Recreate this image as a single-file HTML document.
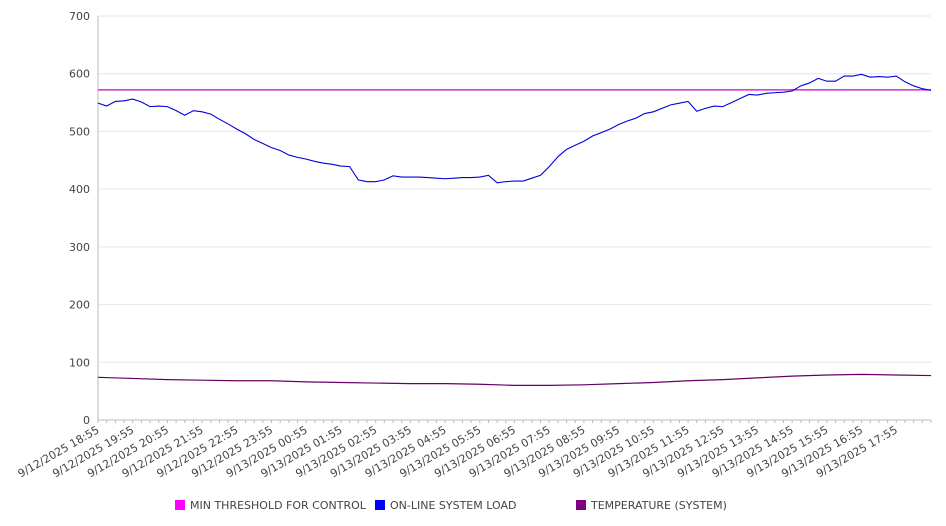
<!DOCTYPE html>
<html><head><meta charset="utf-8"><style>
html,body{margin:0;padding:0;background:#fff;}
svg{display:block;font-family:"DejaVu Sans","Liberation Sans",sans-serif;}
</style></head><body>
<svg id="chart" width="946" height="526"></svg>
<script>
const loadValues=[549,544,552,553,556,551,543,544,543,536,528,536,534,530,521,513,504,496,486,479,472,467,459,455,452,448,445,443,440,439,416,413,413,416,423,421,421,421,420,419,418,419,420,420,421,424,411,413,414,414,419,424,439,456,469,476,483,492,498,504,512,518,523,531,534,540,546,549,552,535,540,544,543,550,557,564,563,566,567,568,570,579,584,592,587,587,596,596,599,594,595,594,596,586,579,574,571];
const tempValues=[74,72,70,69,68,68,66,65,64,63,63,62,60,60,61,63,65,68,70,73,76,78,79,78,77];
const thresholdValue=572;
const yTicks=[0,100,200,300,400,500,600,700];
const xLabels=["9/12/2025 18:55","9/12/2025 19:55","9/12/2025 20:55","9/12/2025 21:55","9/12/2025 22:55","9/12/2025 23:55","9/13/2025 00:55","9/13/2025 01:55","9/13/2025 02:55","9/13/2025 03:55","9/13/2025 04:55","9/13/2025 05:55","9/13/2025 06:55","9/13/2025 07:55","9/13/2025 08:55","9/13/2025 09:55","9/13/2025 10:55","9/13/2025 11:55","9/13/2025 12:55","9/13/2025 13:55","9/13/2025 14:55","9/13/2025 15:55","9/13/2025 16:55","9/13/2025 17:55"];
const legendNames=["MIN THRESHOLD FOR CONTROL","ON-LINE SYSTEM LOAD","TEMPERATURE (SYSTEM)"];
const NS="http://www.w3.org/2000/svg";
const svg=document.getElementById('chart');
const L=98,R=931,T=16,B=420,HOURS=24;
const y=v=>B-(v/700)*(B-T);
const xh=h=>L+(h/HOURS)*(R-L);
function mk(tag,attrs,parent){const e=document.createElementNS(NS,tag);for(const k in attrs)e.setAttribute(k,attrs[k]);(parent||svg).appendChild(e);return e;}
const grid=mk('g',{});


yTicks.forEach(t=>{
  const l=mk('line',{x1:L,x2:R,y1:y(t),y2:y(t),stroke:t===0?'#bbb':'#e6e6e6','stroke-width':1},grid);
  
  
  const tx=mk('text',{x:90,y:y(t)+4,'text-anchor':'end','font-size':11,fill:'#444'});
  tx.textContent=t;
  
  
});
const ax=mk('line',{x1:L,x2:L,y1:T,y2:B,stroke:'#bbb'});


for(let i=0;i<loadValues.length;i++){
  const xx=xh(i/4);
  const tk=mk('line',{x1:xx,x2:xx,y1:B,y2:B+3,stroke:'#bbb'});
  
  
}
xLabels.forEach((s,i)=>{
  const xx=xh(i);
  const tx=mk('text',{x:0,y:0,'text-anchor':'end','font-size':11,fill:'#444',transform:`translate(${xx+2},${B+12}) rotate(-30)`});
  tx.textContent=s;
  
  
});
const th=mk('line',{x1:L,x2:R,y1:y(thresholdValue),y2:y(thresholdValue),stroke:'#cc00cc','stroke-width':1.2});


const lp=mk('polyline',{points:loadValues.map((v,i)=>xh(i/4)+','+y(v)).join(' '),fill:'none',stroke:'#0000dd','stroke-width':1.1});


const tp=mk('polyline',{points:tempValues.map((v,i)=>xh(i*HOURS/(tempValues.length-1))+','+y(v)).join(' '),fill:'none',stroke:'#660066','stroke-width':1.2});


const colors=['#ff00ff','#0000ff','#800080'];
const lx=[175,375,576];
legendNames.forEach((n,i)=>{
  const g=mk('g',{});
  
  
  mk('rect',{x:lx[i],y:500,width:10,height:10,fill:colors[i]},g);
  const t=mk('text',{x:lx[i]+15,y:509,'font-size':11,fill:'#444'},g);
  t.textContent=n;
});
</script>
</body></html>
